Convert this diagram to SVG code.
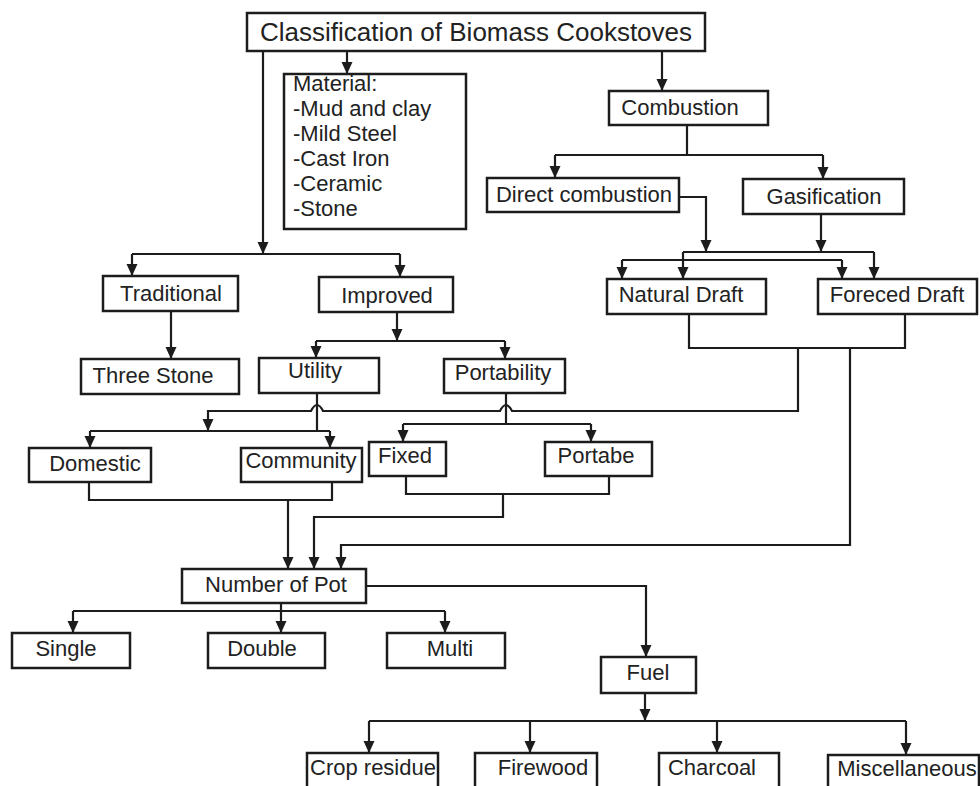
<svg xmlns="http://www.w3.org/2000/svg" width="980" height="786" viewBox="0 0 980 786">
<style>
  .box { fill: #fff; stroke: #1c1c1c; stroke-width: 2.5; }
  .t { font-family: "Liberation Sans", Arial, sans-serif; font-size: 22px; fill: #222; text-anchor: middle; }
  .tl { font-family: "Liberation Sans", Arial, sans-serif; font-size: 22px; fill: #222; }
  .ttl { font-family: "Liberation Sans", Arial, sans-serif; font-size: 26px; fill: #222; text-anchor: middle; }
  .ln { fill: none; stroke: #1c1c1c; stroke-width: 2.2; }
  .ar { marker-end: url(#arr); }
</style>
<defs>
  <marker id="arr" markerUnits="userSpaceOnUse" viewBox="0 -6 12 12" refX="12" refY="0" markerWidth="12" markerHeight="12" orient="auto">
    <path d="M0,-5.5 L12,0 L0,5.5 z" fill="#1c1c1c"/>
  </marker>
</defs>
<rect width="980" height="786" fill="#fff"/>

<g id="connectors">
  <!-- title -->
  <path class="ln ar" d="M263 51 V254"/>
  <path class="ln" d="M132 254 H400"/>
  <path class="ln ar" d="M132 254 V276"/>
  <path class="ln ar" d="M400 254 V277"/>
  <path class="ln ar" d="M347 51 V74"/>
  <path class="ln ar" d="M662 51 V91"/>
  <!-- traditional / improved -->
  <path class="ln ar" d="M171 311 V359"/>
  <path class="ln ar" d="M397 312 V341"/>
  <path class="ln" d="M316 341 H505"/>
  <path class="ln ar" d="M316 341 V358"/>
  <path class="ln ar" d="M505 341 V359"/>
  <!-- utility -->
  <path class="ln" d="M317 393 V431"/>
  <path class="ln" d="M90 431 H330"/>
  <path class="ln ar" d="M90 431 V448"/>
  <path class="ln ar" d="M330 431 V448"/>
  <!-- portability -->
  <path class="ln" d="M506 393 V424"/>
  <path class="ln" d="M403 424 H591"/>
  <path class="ln ar" d="M403 424 V442"/>
  <path class="ln ar" d="M591 424 V442"/>
  <!-- combustion -->
  <path class="ln" d="M687 125 V155"/>
  <path class="ln" d="M555 155 H823"/>
  <path class="ln ar" d="M555 155 V178"/>
  <path class="ln ar" d="M823 155 V179"/>
  <path class="ln ar" d="M679 197 H706 V252"/>
  <path class="ln ar" d="M821 214 V252"/>
  <path class="ln" d="M683 252 H874"/>
  <path class="ln" d="M622 260 H842"/>
  <path class="ln ar" d="M622 260 V279"/>
  <path class="ln ar" d="M683 252 V279"/>
  <path class="ln ar" d="M842 260 V279"/>
  <path class="ln ar" d="M874 252 V279"/>
  <!-- draft outputs -->
  <path class="ln" d="M689 314 V348 H905 V314"/>
  <path class="ln ar" d="M798 348 V411 H512 Q506 399 500 411 H323 Q317 399 311 411 H208 V431"/>
  <path class="ln ar" d="M850 348 V545 H341 V569"/>
  <!-- domestic / community -->
  <path class="ln" d="M89 482 V500 H332 V482"/>
  <path class="ln ar" d="M288 500 V569"/>
  <!-- fixed / portabe -->
  <path class="ln" d="M406 476 V494 H609 V476"/>
  <path class="ln ar" d="M503 494 V517 H314 V569"/>
  <!-- number of pot -->
  <path class="ln ar" d="M366 586 H646 V657"/>
  <path class="ln" d="M73 611 H445"/>
  <path class="ln ar" d="M73 611 V633"/>
  <path class="ln ar" d="M281 603 V633"/>
  <path class="ln ar" d="M445 611 V633"/>
  <!-- fuel -->
  <path class="ln ar" d="M645 693 V721"/>
  <path class="ln" d="M369 721 H906"/>
  <path class="ln ar" d="M369 721 V753"/>
  <path class="ln ar" d="M530 721 V753"/>
  <path class="ln ar" d="M717 721 V753"/>
  <path class="ln ar" d="M906 721 V755"/>
</g>

<g id="title"><rect class="box" x="247" y="13" width="458" height="38"/><text class="ttl" x="476" y="41">Classification of Biomass Cookstoves</text></g>
<g id="material"><rect class="box" x="284" y="74" width="182" height="155"/>
  <text class="tl" x="293" y="91">Material:</text>
  <text class="tl" x="293" y="116">-Mud and clay</text>
  <text class="tl" x="293" y="141">-Mild Steel</text>
  <text class="tl" x="293" y="166">-Cast Iron</text>
  <text class="tl" x="293" y="191">-Ceramic</text>
  <text class="tl" x="293" y="216">-Stone</text>
</g>
<g id="combustion"><rect class="box" x="609" y="91" width="159" height="34"/><text class="t" x="680" y="115">Combustion</text></g>
<g id="direct"><rect class="box" x="487" y="178" width="192" height="34"/><text class="t" x="584" y="202">Direct combustion</text></g>
<g id="gasification"><rect class="box" x="743" y="179" width="161" height="35"/><text class="t" x="824" y="204">Gasification</text></g>
<g id="natural"><rect class="box" x="607" y="279" width="159" height="35"/><text class="t" x="681" y="302">Natural Draft</text></g>
<g id="forced"><rect class="box" x="818" y="279" width="159" height="35"/><text class="t" x="897" y="302">Foreced Draft</text></g>
<g id="traditional"><rect class="box" x="103" y="276" width="135" height="35"/><text class="t" x="171" y="301">Traditional</text></g>
<g id="improved"><rect class="box" x="319" y="277" width="134" height="35"/><text class="t" x="387" y="303">Improved</text></g>
<g id="threestone"><rect class="box" x="81" y="359" width="158" height="35"/><text class="t" x="153" y="383">Three Stone</text></g>
<g id="utility"><rect class="box" x="259" y="358" width="120" height="35"/><text class="t" x="315" y="378">Utility</text></g>
<g id="portability"><rect class="box" x="444" y="359" width="121" height="34"/><text class="t" x="503" y="380">Portability</text></g>
<g id="domestic"><rect class="box" x="29" y="448" width="122" height="34"/><text class="t" x="95" y="471">Domestic</text></g>
<g id="community"><rect class="box" x="241" y="448" width="121" height="34"/><text class="t" x="301" y="468">Community</text></g>
<g id="fixed"><rect class="box" x="369" y="442" width="77" height="34"/><text class="t" x="405" y="463">Fixed</text></g>
<g id="portabe"><rect class="box" x="545" y="442" width="107" height="34"/><text class="t" x="596" y="463">Portabe</text></g>
<g id="numberofpot"><rect class="box" x="182" y="569" width="184" height="34"/><text class="t" x="276" y="592">Number of Pot</text></g>
<g id="single"><rect class="box" x="12" y="633" width="118" height="35"/><text class="t" x="66" y="656">Single</text></g>
<g id="double"><rect class="box" x="208" y="633" width="117" height="35"/><text class="t" x="262" y="656">Double</text></g>
<g id="multi"><rect class="box" x="387" y="633" width="118" height="35"/><text class="t" x="450" y="656">Multi</text></g>
<g id="fuel"><rect class="box" x="601" y="657" width="95" height="36"/><text class="t" x="648" y="680">Fuel</text></g>
<g id="cropresidue"><rect class="box" x="307" y="753" width="131" height="50"/><text class="t" x="373" y="775">Crop residue</text></g>
<g id="firewood"><rect class="box" x="475" y="753" width="122" height="50"/><text class="t" x="543" y="775">Firewood</text></g>
<g id="charcoal"><rect class="box" x="659" y="753" width="120" height="50"/><text class="t" x="712" y="775">Charcoal</text></g>
<g id="miscellaneous"><rect class="box" x="828" y="755" width="151" height="50"/><text class="t" x="907" y="776">Miscellaneous</text></g>
</svg>
